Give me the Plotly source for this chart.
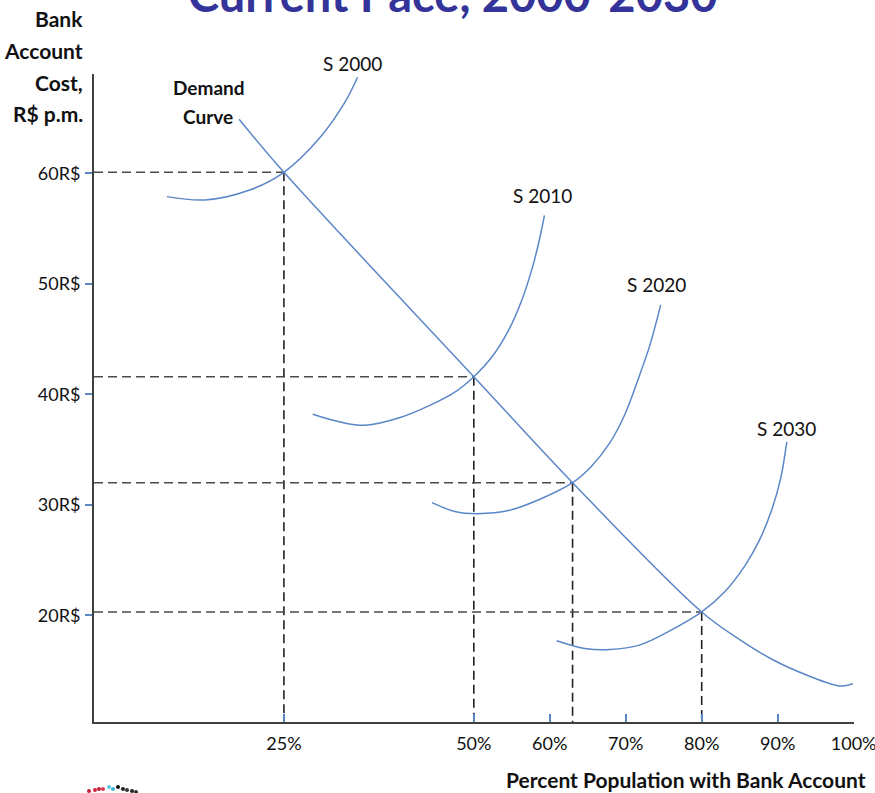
import plotly.graph_objects as go

# Equilibrium points (percent with account, monthly cost)
eq_pct = [25, 50, 63, 80]
eq_cost = [60.1, 41.6, 32.0, 20.3]

# Demand curve
demand_pct = [19.1, 25.0, 50.0, 63.0, 80.0, 85.0, 89.3, 93.8, 98.2, 99.9]
demand_cost = [64.9, 60.1, 41.6, 32.0, 20.3, 17.8, 16.0, 14.6, 13.6, 13.8]

# Supply curves by year
supply_names = ["S 2000", "S 2010", "S 2020", "S 2030"]
s2000_pct = [9.6, 14.6, 20.5, 25.0, 29.7, 33.0, 34.7]
s2000_cost = [57.9, 57.6, 58.5, 60.1, 63.2, 66.4, 68.7]
s2010_pct = [28.8, 32.4, 35.7, 40.3, 44.2, 47.5, 50.0, 52.4, 54.5, 56.3, 57.8, 58.7, 59.3]
s2010_cost = [38.2, 37.5, 37.2, 37.9, 39.0, 40.2, 41.6, 43.4, 45.7, 48.5, 51.7, 54.2, 56.2]
s2020_pct = [44.5, 47.5, 50.5, 54.7, 58.7, 63.0, 65.5, 67.9, 69.9, 71.6, 73.2, 74.6]
s2020_cost = [30.2, 29.4, 29.2, 29.5, 30.5, 32.0, 33.5, 35.6, 38.2, 41.3, 44.5, 48.1]
s2030_pct = [60.9, 64.6, 67.9, 71.8, 76.1, 80.0, 83.0, 85.7, 87.6, 89.2, 90.4, 91.2]
s2030_cost = [17.7, 17.0, 16.9, 17.3, 18.7, 20.3, 22.1, 24.5, 26.8, 29.5, 32.4, 35.7]

# Axis ticks
x_ticks = [25, 50, 60, 70, 80, 90, 100]
x_labels = ["25%", "50%", "60%", "70%", "80%", "90%", "100%"]
y_ticks = [20, 30, 40, 50, 60]
y_labels = ["20R$", "30R$", "40R$", "50R$", "60R$"]

X_MIN, X_MAX = 0, 100.05
Y_MIN, Y_MAX = 10.34, 69.0

BLUE = "#5b87c7"
FONT = "Lato"
INK = "#111111"

PLOT_L, PLOT_R, PLOT_T, PLOT_B = 94, 854, 74, 722


def px_to_paper(px, py):
    return (px - PLOT_L) / (PLOT_R - PLOT_L), (PLOT_B - py) / (PLOT_B - PLOT_T)


fig = go.Figure()

# dashed guides from each equilibrium to both axes
for px, py in zip(eq_pct, eq_cost):
    fig.add_trace(go.Scatter(x=[X_MIN, px], y=[py, py], mode="lines",
                             line=dict(color="#4a4a4a", width=1.6, dash="9px,5px"),
                             hoverinfo="skip", showlegend=False))
    fig.add_trace(go.Scatter(x=[px, px], y=[py, Y_MIN], mode="lines",
                             line=dict(color="#222222", width=1.6, dash="9px,5px"),
                             hoverinfo="skip", showlegend=False))

fig.add_trace(go.Scatter(x=demand_pct, y=demand_cost, mode="lines", name="Demand Curve",
                         line=dict(color=BLUE, width=1.5, shape="spline", smoothing=1.0),
                         showlegend=False))

supply = [(s2000_pct, s2000_cost), (s2010_pct, s2010_cost),
          (s2020_pct, s2020_cost), (s2030_pct, s2030_cost)]
for name, (sx, sy) in zip(supply_names, supply):
    fig.add_trace(go.Scatter(x=sx, y=sy, mode="lines", name=name,
                             line=dict(color=BLUE, width=1.5, shape="spline", smoothing=1.0),
                             showlegend=False))

# curve labels (pixel positions converted to paper space so the top one may sit above the plot)
label_px = [(352, 63), (542, 196), (656, 284), (786, 428)]
for name, (lx, ly) in zip(supply_names, label_px):
    ax_, ay_ = px_to_paper(lx, ly)
    fig.add_annotation(xref="paper", yref="paper", x=ax_, y=ay_, text=name, showarrow=False,
                       font=dict(family=FONT, size=19, color=INK),
                       xanchor="center", yanchor="middle")
for word, (wx, wy) in zip(["Demand", "Curve"], [(209, 88), (208, 117)]):
    ax_, ay_ = px_to_paper(wx, wy)
    fig.add_annotation(xref="paper", yref="paper", x=ax_, y=ay_, text="<b>" + word + "</b>",
                       showarrow=False, xanchor="center", yanchor="middle",
                       font=dict(family=FONT, size=19, color=INK))

# axis titles
for line, cy in zip(["Bank", "Account", "Cost,", "R$ p.m."], [19, 50, 82, 113]):
    ax_, ay_ = px_to_paper(85, cy)
    fig.add_annotation(xref="paper", yref="paper", x=ax_, y=ay_, text="<b>" + line + "</b>",
                       showarrow=False, xanchor="right", yanchor="middle",
                       font=dict(family=FONT, size=21, color=INK))

tx, ty = px_to_paper(686, 779)
fig.add_annotation(xref="paper", yref="paper", x=tx, y=ty,
                   text="<b>Percent Population with Bank Account</b>", showarrow=False,
                   xanchor="center", yanchor="middle",
                   font=dict(family=FONT, size=21, color=INK))

# heading, running off the top edge
hx, hy = px_to_paper(452, -6)
fig.add_annotation(xref="paper", yref="paper", x=hx, y=hy,
                   text="<b>Current Pace, 2000-2030</b>", showarrow=False,
                   xanchor="center", yanchor="middle",
                   font=dict(family=FONT, size=47, color="#33339a"))

# small dotted emblem in the lower-left corner
dots = [(89, 791, "#c8203c"), (95, 790, "#d0263e"), (99, 789, "#c21e3a"), (103, 789, "#d63a55"),
        (109, 787, "#5ec8e6"), (113, 789, "#3fb5dc"), (118, 787, "#111111"), (123, 789, "#222222"),
        (127, 790, "#333333"), (132, 791, "#222222"), (136, 792, "#333333")]
for dx, dy, dc in dots:
    ddx, ddy = px_to_paper(dx, dy)
    fig.add_shape(type="circle", xref="paper", yref="paper", xsizemode="pixel", ysizemode="pixel",
                  xanchor=ddx, yanchor=ddy, x0=-2, x1=2, y0=-2, y1=2,
                  fillcolor=dc, line=dict(width=0))

fig.update_xaxes(range=[X_MIN, X_MAX], showline=True, linecolor="#404040", linewidth=2,
                 showgrid=False, zeroline=False, ticks="inside", ticklen=8, tickwidth=1.5,
                 tickcolor=BLUE, tickvals=x_ticks, ticktext=x_labels,
                 tickfont=dict(family=FONT, size=18, color=INK), ticklabelstandoff=4,
                 ticklabeloverflow="allow", automargin=False)
fig.update_yaxes(range=[Y_MIN, Y_MAX], showline=True, linecolor="#404040", linewidth=2,
                 showgrid=False, zeroline=False, ticks="outside", ticklen=7, tickwidth=2,
                 tickcolor=BLUE, tickvals=y_ticks, ticktext=y_labels,
                 tickfont=dict(family=FONT, size=18, color=INK), ticklabelstandoff=1,
                 automargin=False)

fig.update_layout(width=875, height=793,
                  margin=dict(l=PLOT_L, r=875 - PLOT_R, t=PLOT_T, b=793 - PLOT_B),
                  plot_bgcolor="white", paper_bgcolor="white", showlegend=False)

fig.write_html("out.html", config={"displayModeBar": False})
